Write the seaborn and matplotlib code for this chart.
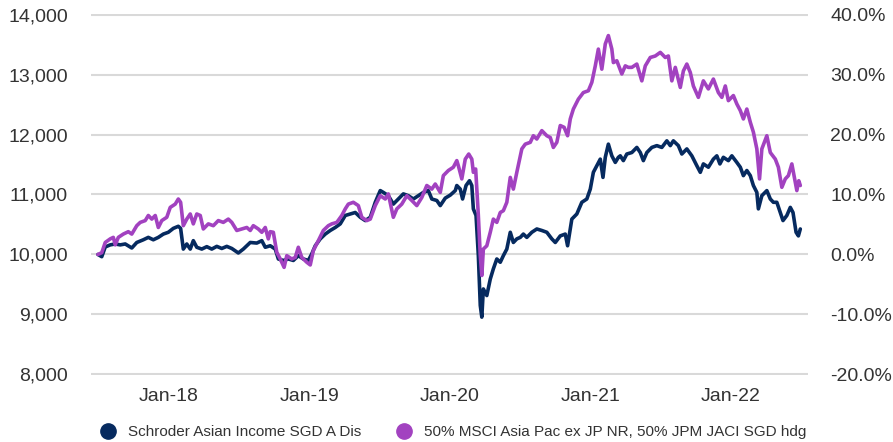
import pandas as pd
import matplotlib.pyplot as plt
import seaborn as sns
from matplotlib.lines import Line2D

# series names
fund_name = "Schroder Asian Income SGD A Dis"
bench_name = "50% MSCI Asia Pac ex JP NR, 50% JPM JACI SGD hdg"

# fund, growth of 10,000
fund_dates = [
    "2017-06-30", "2017-07-10", "2017-07-19", "2017-08-01", "2017-08-14", "2017-08-27",
    "2017-09-09", "2017-09-26", "2017-10-09", "2017-10-26", "2017-11-08", "2017-11-21",
    "2017-12-04", "2017-12-17", "2017-12-30", "2018-01-12", "2018-01-25", "2018-01-31",
    "2018-02-07", "2018-02-16", "2018-02-25", "2018-03-05", "2018-03-14", "2018-03-27",
    "2018-04-09", "2018-04-22", "2018-05-05", "2018-05-18", "2018-05-31", "2018-06-13",
    "2018-06-30", "2018-07-13", "2018-07-31", "2018-08-17", "2018-08-30", "2018-09-08",
    "2018-09-21", "2018-10-04", "2018-10-12", "2018-10-25", "2018-11-07", "2018-11-20",
    "2018-12-03", "2018-12-16", "2018-12-29", "2019-01-07", "2019-01-16", "2019-01-29",
    "2019-02-11", "2019-02-24", "2019-03-09", "2019-03-22", "2019-04-04", "2019-04-17",
    "2019-04-30", "2019-05-13", "2019-05-26", "2019-06-08", "2019-06-21", "2019-07-04",
    "2019-07-12", "2019-07-25", "2019-08-07", "2019-08-20", "2019-09-02", "2019-09-15",
    "2019-09-28", "2019-10-11", "2019-10-24", "2019-11-06", "2019-11-15", "2019-11-28",
    "2019-12-07", "2019-12-20", "2020-01-02", "2020-01-15", "2020-01-19", "2020-01-28",
    "2020-02-03", "2020-02-12", "2020-02-21", "2020-02-27", "2020-03-02", "2020-03-09",
    "2020-03-15", "2020-03-20", "2020-03-24", "2020-03-28", "2020-04-06", "2020-04-15",
    "2020-04-23", "2020-05-02", "2020-05-11", "2020-05-19", "2020-05-28", "2020-06-06",
    "2020-06-14", "2020-06-23", "2020-07-02", "2020-07-10", "2020-07-19", "2020-08-01",
    "2020-08-14", "2020-08-27", "2020-09-09", "2020-09-22", "2020-10-01", "2020-10-14",
    "2020-10-27", "2020-11-02", "2020-11-13", "2020-11-26", "2020-12-09", "2020-12-22",
    "2020-12-31", "2021-01-08", "2021-01-17", "2021-01-26", "2021-02-02", "2021-02-08",
    "2021-02-16", "2021-02-25", "2021-03-06", "2021-03-14", "2021-03-19", "2021-03-27",
    "2021-04-05", "2021-04-18", "2021-05-01", "2021-05-10", "2021-05-18", "2021-05-27",
    "2021-06-09", "2021-06-22", "2021-07-05", "2021-07-18", "2021-07-27", "2021-08-04",
    "2021-08-17", "2021-08-26", "2021-09-08", "2021-09-21", "2021-10-04", "2021-10-13",
    "2021-10-21", "2021-11-03", "2021-11-16", "2021-11-25", "2021-12-03", "2021-12-12",
    "2021-12-25", "2022-01-03", "2022-01-16", "2022-01-25", "2022-02-02", "2022-02-11",
    "2022-02-20", "2022-02-28", "2022-03-09", "2022-03-13", "2022-03-22", "2022-04-04",
    "2022-04-13", "2022-04-21", "2022-04-30", "2022-05-09", "2022-05-16", "2022-05-26",
    "2022-06-04", "2022-06-11", "2022-06-19", "2022-06-25", "2022-06-30",
]
fund_values = [
    10000, 9963, 10125, 10160, 10175, 10160,
    10175, 10108, 10200, 10245, 10285, 10245,
    10285, 10340, 10370, 10435, 10470, 10435,
    10090, 10175, 10090, 10230, 10120, 10090,
    10130, 10090, 10135, 10100, 10135, 10100,
    10025, 10090, 10200, 10190, 10230, 10120,
    10145, 10090, 9925, 9900, 9925, 9900,
    9980, 9925, 9900, 10010, 10145, 10260,
    10340, 10400, 10450, 10510, 10650, 10675,
    10700, 10620, 10565, 10620, 10870, 11065,
    11035, 10980, 10840, 10925, 11010, 10980,
    10925, 10980, 11035, 11065, 10925, 10900,
    10815, 10940, 10990, 11065, 11150, 11090,
    10925, 11150, 11230, 11150, 10760, 10650,
    9980, 9150, 8955, 9425, 9315, 9590,
    9760, 9925, 9870, 9980, 10090, 10370,
    10200, 10260, 10285, 10340, 10285, 10370,
    10425, 10400, 10370, 10260, 10200, 10310,
    10340, 10145, 10590, 10675, 10870, 10925,
    11090, 11370, 11480, 11590, 11285, 11620,
    11840, 11645, 11535, 11620, 11645, 11565,
    11675, 11700, 11785, 11700, 11565, 11700,
    11785, 11815, 11785, 11895, 11815, 11895,
    11815, 11675, 11760, 11645, 11480, 11370,
    11510, 11455, 11590, 11645, 11510, 11620,
    11565, 11645, 11535, 11455, 11315, 11400,
    11315, 11150, 11035, 10760, 10980, 11065,
    10925, 10870, 10870, 10700, 10565, 10650,
    10785, 10700, 10370, 10310, 10425,
]

# benchmark, growth of 10,000
bench_dates = [
    "2017-06-30", "2017-07-10", "2017-07-19", "2017-08-01", "2017-08-09", "2017-08-14",
    "2017-08-22", "2017-09-04", "2017-09-17", "2017-09-26", "2017-10-09", "2017-10-18",
    "2017-10-31", "2017-11-08", "2017-11-17", "2017-11-26", "2017-12-04", "2017-12-13",
    "2017-12-26", "2018-01-04", "2018-01-17", "2018-01-25", "2018-01-31", "2018-02-07",
    "2018-02-16", "2018-02-25", "2018-03-05", "2018-03-14", "2018-03-23", "2018-03-31",
    "2018-04-13", "2018-04-26", "2018-05-09", "2018-05-22", "2018-06-04", "2018-06-13",
    "2018-06-26", "2018-07-09", "2018-07-22", "2018-07-31", "2018-08-08", "2018-08-21",
    "2018-08-30", "2018-09-08", "2018-09-16", "2018-09-21", "2018-09-29", "2018-10-08",
    "2018-10-17", "2018-10-27", "2018-11-03", "2018-11-16", "2018-11-25", "2018-12-03",
    "2018-12-12", "2018-12-25", "2019-01-03", "2019-01-11", "2019-01-24", "2019-02-06",
    "2019-02-19", "2019-02-28", "2019-03-13", "2019-03-26", "2019-04-04", "2019-04-12",
    "2019-04-25", "2019-05-08", "2019-05-17", "2019-05-30", "2019-06-08", "2019-06-21",
    "2019-07-04", "2019-07-17", "2019-07-25", "2019-08-07", "2019-08-16", "2019-08-29",
    "2019-09-11", "2019-09-24", "2019-10-07", "2019-10-20", "2019-11-02", "2019-11-15",
    "2019-11-24", "2019-12-07", "2019-12-15", "2019-12-28", "2020-01-10", "2020-01-19",
    "2020-01-23", "2020-02-01", "2020-02-10", "2020-02-19", "2020-02-27", "2020-03-02",
    "2020-03-08", "2020-03-15", "2020-03-20", "2020-03-24", "2020-03-28", "2020-04-06",
    "2020-04-15", "2020-04-23", "2020-05-02", "2020-05-11", "2020-05-19", "2020-05-28",
    "2020-06-06", "2020-06-14", "2020-06-23", "2020-07-06", "2020-07-15", "2020-07-28",
    "2020-08-05", "2020-08-14", "2020-08-27", "2020-09-09", "2020-09-18", "2020-09-26",
    "2020-10-05", "2020-10-14", "2020-10-24", "2020-11-02", "2020-11-09", "2020-11-17",
    "2020-11-30", "2020-12-13", "2020-12-26", "2021-01-04", "2021-01-13", "2021-01-21",
    "2021-01-30", "2021-02-08", "2021-02-16", "2021-02-25", "2021-03-01", "2021-03-10",
    "2021-03-23", "2021-04-01", "2021-04-09", "2021-04-18", "2021-05-01", "2021-05-14",
    "2021-05-23", "2021-06-05", "2021-06-18", "2021-07-01", "2021-07-14", "2021-07-22",
    "2021-07-31", "2021-08-09", "2021-08-22", "2021-08-30", "2021-09-08", "2021-09-17",
    "2021-09-25", "2021-10-08", "2021-10-21", "2021-11-03", "2021-11-16", "2021-11-29",
    "2021-12-08", "2021-12-17", "2021-12-25", "2022-01-07", "2022-01-16", "2022-01-25",
    "2022-02-02", "2022-02-11", "2022-02-20", "2022-02-28", "2022-03-09", "2022-03-16",
    "2022-03-22", "2022-04-04", "2022-04-13", "2022-04-26", "2022-05-04", "2022-05-13",
    "2022-05-22", "2022-05-30", "2022-06-08", "2022-06-12", "2022-06-21", "2022-06-26",
    "2022-06-30",
]
bench_values = [
    10000, 10030, 10200, 10260, 10285, 10160,
    10285, 10340, 10380, 10340, 10480, 10535,
    10565, 10650, 10590, 10650, 10450, 10565,
    10620, 10785, 10840, 10925, 10870, 10480,
    10590, 10675, 10510, 10675, 10650, 10425,
    10510, 10480, 10565, 10535, 10590, 10535,
    10400, 10425, 10450, 10400, 10480, 10425,
    10370, 10450, 10260, 10380, 10370, 10035,
    9925, 9785, 9980, 9925, 9950, 10120,
    9950, 9870, 9825, 10065, 10230, 10400,
    10480, 10510, 10535, 10650, 10760, 10840,
    10870, 10815, 10620, 10565, 10590, 10815,
    10980, 10925, 11010, 10620, 10760, 10840,
    10980, 10900, 10815, 10950, 11150, 11090,
    11175, 11035, 11315, 11400, 11455, 11565,
    11480, 11260, 11590, 11675, 11590, 11370,
    11425, 10650, 9980, 9650, 10090, 10145,
    10370, 10590, 10535, 10700, 10730, 10870,
    11285, 11090, 11370, 11760, 11840, 11870,
    11980, 11925, 12065, 11980, 11950, 11785,
    11870, 12150, 12120, 11980, 12260, 12425,
    12590, 12700, 12730, 12870, 13145, 13425,
    13090, 13510, 13650, 13425, 13200, 13230,
    13010, 13145, 13120, 13120, 13175, 12895,
    13145, 13285, 13310, 13370, 13285, 13310,
    12895, 13120, 12785, 13060, 13175, 13035,
    12810, 12620, 12895, 12760, 12925, 12700,
    12620, 12810, 12565, 12650, 12510, 12400,
    12260, 12425, 12205, 12040, 11760, 11260,
    11760, 11980, 11700, 11590, 11455, 11120,
    11260, 11315, 11510, 11370, 11065, 11230,
    11150,
]

left_ticks = [8000, 9000, 10000, 11000, 12000, 13000, 14000]
x_tick_dates = ["2018-01-01", "2019-01-01", "2020-01-01", "2021-01-01", "2022-01-01"]
x_tick_labels = ["Jan-18", "Jan-19", "Jan-20", "Jan-21", "Jan-22"]

fund_color = "#062a5f"
bench_color = "#a242c0"
text_color = "#333333"

fund = pd.DataFrame({"date": pd.to_datetime(fund_dates), "value": fund_values})
bench = pd.DataFrame({"date": pd.to_datetime(bench_dates), "value": bench_values})

sns.set_theme(style="white")
plt.rcParams["font.family"] = ["Liberation Sans", "DejaVu Sans"]

W, H = 893, 442
fig = plt.figure(figsize=(W / 100, H / 100), dpi=100)
ax = fig.add_axes([91 / W, 1 - 375 / H, (808 - 91) / W, (375 - 14) / H])

sns.lineplot(data=fund, x="date", y="value", ax=ax, color=fund_color, lw=2.6)
sns.lineplot(data=bench, x="date", y="value", ax=ax, color=bench_color, lw=2.6)

ax.set_xlim(pd.Timestamp("2017-06-12"), pd.Timestamp("2022-07-20"))
ylo, yhi = 7990, 14010
ax.set_ylim(ylo, yhi)
ax.set_yticks(left_ticks)
ax.set_yticklabels([f"{v:,}" for v in left_ticks])
ax.set_xticks(pd.to_datetime(x_tick_dates))
ax.set_xticklabels(x_tick_labels)
ax.set_xlabel("")
ax.set_ylabel("")
ax.grid(axis="y", color="#d9d9d9", lw=1.5)
ax.grid(axis="x", visible=False)
for s in ax.spines.values():
    s.set_visible(False)
ax.tick_params(axis="y", length=0, pad=16.5, labelsize=14, colors=text_color)
ax.tick_params(axis="x", length=0, pad=9.5, labelsize=14, colors=text_color)

# right axis: cumulative return in %
ax2 = ax.twinx()
ax2.set_ylim((ylo / 10000 - 1) * 100, (yhi / 10000 - 1) * 100)
pct_ticks = [(v / 10000 - 1) * 100 for v in left_ticks]
ax2.set_yticks(pct_ticks)
ax2.set_yticklabels([f"{p:.1f}%" for p in pct_ticks])
ax2.tick_params(axis="y", length=0, pad=16, labelsize=14, colors=text_color)
ax2.grid(False)
for s in ax2.spines.values():
    s.set_visible(False)

handles = [
    Line2D([], [], ls="none", marker="o", ms=11, color=fund_color),
    Line2D([], [], ls="none", marker="o", ms=11, color=bench_color),
]
fig.legend(handles, [fund_name, bench_name], loc="center",
           bbox_to_anchor=(453.7 / W, 1 - 432 / H), ncol=2, frameon=False,
           fontsize=11, handlelength=1.0, handletextpad=0.81,
           columnspacing=2.3, labelcolor=text_color)

fig.savefig("out.png", dpi=100)
